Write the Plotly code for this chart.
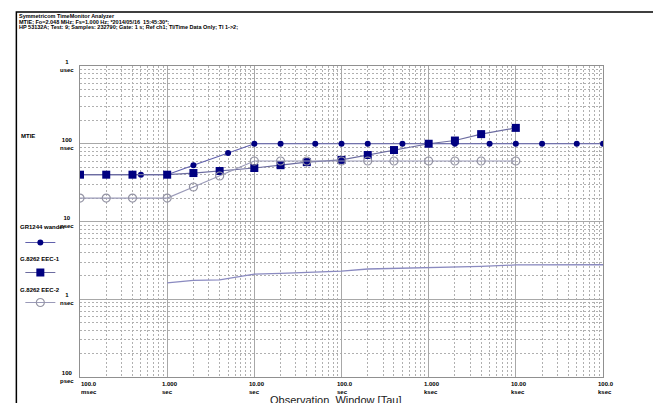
import math
import plotly.graph_objects as go

# ---------------- data (tau in seconds, MTIE in nanoseconds) ----------------
gr1244_tau = [0.1, 0.2, 0.5, 1, 2, 5, 10, 20, 50, 100, 200, 500, 1000, 2000,
              5000, 10000, 20000, 50000, 100000]
gr1244_ns = [40, 40, 40, 40, 53, 76, 100, 100, 100, 100, 100, 100, 100, 100,
             100, 100, 100, 100, 100]

eec_tau = [0.1, 0.2, 0.4, 1, 2, 4, 10, 20, 40, 100, 200, 400, 1000, 2000,
           4000, 10000]
eec1_ns = [40, 40, 40, 40, 42, 44.6, 48.8, 53, 58, 62, 71.6, 83, 100, 110,
           133, 160]
eec2_ns = [20, 20, 20, 20, 27.8, 38.5, 60, 60, 60, 60, 60, 60, 60, 60, 60, 60]

meas_tau = [1, 2, 4, 10, 20, 40, 100, 200, 400, 1000, 2000, 4000, 10000,
            20000, 40000, 100000]
meas_ns = [1.62, 1.75, 1.77, 2.1, 2.15, 2.2, 2.3, 2.45, 2.5, 2.52, 2.57, 2.64,
           2.76, 2.76, 2.76, 2.78]

x_tick_vals = [0.1, 1, 10, 100, 1000, 10000, 100000]
x_tick_num = ["100.0", "1.000", "10.00", "100.0", "1.000", "10.00", "100.0"]
x_tick_unit = ["msec", "sec", "sec", "sec", "ksec", "ksec", "ksec"]

y_tick_vals = [1e-6, 1e-7, 1e-8, 1e-9, 1e-10]
y_tick_num = ["1", "100", "10", "1", "100"]
y_tick_unit = ["usec", "nsec", "nsec", "nsec", "psec"]

header_lines = [
    "Symmetricom TimeMonitor Analyzer",
    "MTIE; Fo=2.048 MHz; Fs=1.000 Hz; *2014/05/16  15:45:30*;",
    "HP 53132A; Test: 9; Samples: 232790; Gate: 1 s; Ref ch1; TI/Time Data Only; TI 1->2;",
]
series_names = ["GR1244 wander", "G.8262 EEC-1", "G.8262 EEC-2"]

# ---------------- figure ----------------
OFF = 8  # page body margin
W, H = 661 - OFF, 403 - OFF
L, T = 77 - OFF, 66 - OFF
R = W - (603 - OFF)
B = H - (377 - OFF)
PW, PH = W - L - R, H - T - B
FONT = "Liberation Sans, Arial, sans-serif"
NAVY = "#000080"


def px_x(p):
    return (p - OFF - L) / PW


def px_y(p):
    return (H - B - (p - OFF)) / PH


fig = go.Figure()

fig.add_trace(go.Scatter(
    x=meas_tau, y=[v * 1e-9 for v in meas_ns], mode="lines",
    line=dict(color="#8a8ac0", width=1.3), showlegend=False, hoverinfo="skip"))

fig.add_trace(go.Scatter(
    x=gr1244_tau, y=[v * 1e-9 for v in gr1244_ns], mode="lines+markers",
    name=" ", legendgroup="a",
    line=dict(color="#6060ac", width=1.2),
    marker=dict(symbol="circle", size=6, color=NAVY)))

fig.add_trace(go.Scatter(
    x=eec_tau, y=[v * 1e-9 for v in eec1_ns], mode="lines+markers",
    name=" ", legendgroup="b",
    line=dict(color="#6c6ca0", width=1.2),
    marker=dict(symbol="square", size=8, color=NAVY)))

fig.add_trace(go.Scatter(
    x=eec_tau, y=[v * 1e-9 for v in eec2_ns], mode="lines+markers",
    name=" ", legendgroup="c",
    line=dict(color="#9a9ab8", width=1.2),
    marker=dict(symbol="circle-open", size=8, color="#9494a4",
                line=dict(width=1.2, color="#9494a4"))))

annotations = []
# header
for i, t in enumerate(header_lines):
    annotations.append(dict(
        text="<b>" + t + "</b>", xref="paper", yref="paper",
        x=px_x(14), y=px_y(16 + i * 5.6), xanchor="left", yanchor="middle",
        showarrow=False, font=dict(family=FONT, size=5.5, color="black")))

# y tick labels
for v, n, u in zip(y_tick_vals, y_tick_num, y_tick_unit):
    annotations.append(dict(
        text="<b>%s<br>%s</b>" % (n, u), xref="paper", yref="y",
        x=px_x(64), y=math.log10(v), xanchor="center",
        yanchor="middle", showarrow=False, align="center",
        font=dict(family=FONT, size=6, color="black")))

# x tick labels
for i, (v, n, u) in enumerate(zip(x_tick_vals, x_tick_num, x_tick_unit)):
    annotations.append(dict(
        text="<b>%s<br>%s</b>" % (n, u), xref="x", yref="paper",
        x=math.log10(v), y=px_y(379), xanchor="center",
        xshift=9 if i == 0 else 3,
        yanchor="top", showarrow=False, align="left",
        font=dict(family=FONT, size=6, color="black")))

# axis names
annotations.append(dict(
    text="<b>MTIE</b>", xref="paper", yref="paper", x=px_x(25), y=px_y(136),
    xanchor="center", yanchor="middle", showarrow=False,
    font=dict(family=FONT, size=6, color="black")))
annotations.append(dict(
    text="Observation  Window [Tau]", xref="paper", yref="paper",
    x=px_x(334), y=px_y(392), xanchor="center", yanchor="top",
    showarrow=False, font=dict(family=FONT, size=11, color="#202020")))

# legend texts
for name, yp in zip(series_names, [227, 259, 290]):
    annotations.append(dict(
        text="<b>" + name + "</b>", xref="paper", yref="paper",
        x=px_x(15), y=px_y(yp), xanchor="left", yanchor="middle",
        showarrow=False, font=dict(family=FONT, size=6, color="black")))

grid_major = "#a8a8a8"
grid_minor = "#b0b0b0"

fig.update_xaxes(
    type="log", range=[-1, 5], dtick=1, showticklabels=False, ticks="",
    showgrid=True, gridcolor=grid_major, gridwidth=1,
    minor=dict(showgrid=True, dtick="D1", gridcolor=grid_minor,
               griddash="2px,2px", gridwidth=1, ticks=""),
    showline=True, linecolor="#909090", mirror=True, zeroline=False)
fig.update_yaxes(
    type="log", range=[-10, -6], dtick=1, showticklabels=False, ticks="",
    showgrid=True, gridcolor=grid_major, gridwidth=1,
    minor=dict(showgrid=True, dtick="D1", gridcolor=grid_minor,
               griddash="2px,2px", gridwidth=1, ticks=""),
    showline=True, linecolor="#909090", mirror=True, zeroline=False)

fig.update_layout(
    width=W, height=H, autosize=False,
    margin=dict(l=L, r=R, t=T, b=B, pad=0),
    paper_bgcolor="white", plot_bgcolor="white",
    annotations=annotations,
    showlegend=True,
    legend=dict(x=px_x(17), y=px_y(228), xanchor="left", yanchor="top",
                tracegroupgap=11, bgcolor="rgba(0,0,0,0)",
                font=dict(family=FONT, size=6), itemclick=False),
    shapes=[dict(type="rect", xref="paper", yref="paper",
                 x0=px_x(13), x1=px_x(700), y0=px_y(12), y1=px_y(420),
                 line=dict(color="black", width=1.5), layer="below")],
)

fig.write_html("out.html")
